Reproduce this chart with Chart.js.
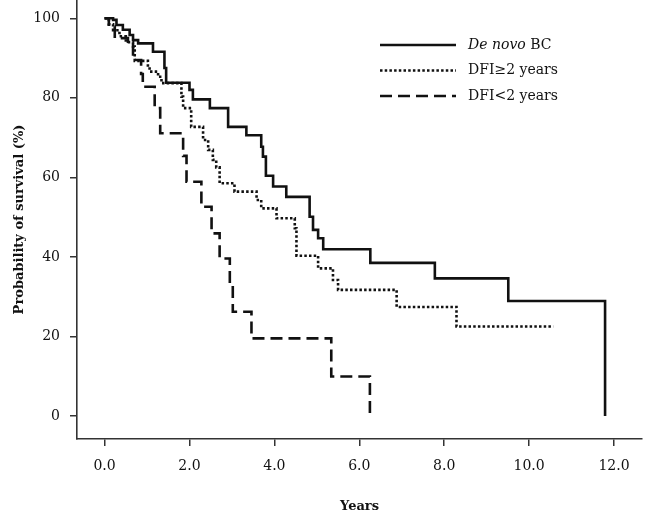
<!DOCTYPE html>
<html>
<head>
<meta charset="utf-8">
<script src="https://cdn.jsdelivr.net/npm/chart.js@4.4.1/dist/chart.umd.min.js"></script>
<style>
  html, body { margin: 0; padding: 0; background: #fff; }
  #wrap { width: 646px; height: 522px; }
</style>
</head>
<body>
<div id="wrap"><canvas id="chart"></canvas></div>
<script>
// survival curves: time (years) where the step lands, survival (%) after it
const deNovoYears = [0, 0.2, 0.28, 0.43, 0.59, 0.67, 0.79, 1.14, 1.41, 1.45, 2.0, 2.08, 2.48, 2.91, 3.34, 3.69, 3.73, 3.8, 3.97, 4.28, 4.83, 4.91, 5.03, 5.15, 6.26, 7.78, 9.51, 11.79];
const deNovoSurvival = [100, 99.6, 98.3, 97.1, 95.8, 94.5, 93.7, 91.6, 87.5, 83.8, 82, 79.6, 77.4, 72.7, 70.6, 67.7, 65.2, 60.4, 57.7, 55.1, 50.1, 46.8, 44.7, 41.9, 38.5, 34.6, 28.9, 0];

const dfiLongYears = [0, 0.1, 0.2, 0.35, 0.5, 0.67, 0.71, 1.02, 1.06, 1.26, 1.34, 1.81, 1.85, 2.04, 2.32, 2.44, 2.55, 2.63, 2.71, 3.06, 3.58, 3.69, 4.05, 4.48, 4.52, 5.03, 5.38, 5.5, 6.88, 8.29, 10.57];
const dfiLongSurvival = [100, 98.5, 97, 95.5, 94, 92.9, 89.3, 87.8, 86.6, 85.3, 83.7, 80.3, 77.4, 72.7, 69.4, 66.9, 64.4, 62.5, 58.5, 56.4, 54.3, 52.2, 49.7, 47.2, 40.3, 37.1, 34.2, 31.7, 27.4, 22.5, 22.5];

const dfiShortYears = [0, 0.1, 0.24, 0.55, 0.67, 0.86, 0.9, 1.18, 1.31, 1.85, 1.93, 2.28, 2.52, 2.71, 2.95, 3.02, 3.46, 5.34, 6.25];
const dfiShortSurvival = [100, 98, 95, 93.7, 89.5, 86, 82.8, 77.4, 71.1, 65.4, 58.9, 52.6, 45.9, 39.6, 32.9, 26.2, 19.5, 9.9, 0];

const xTicks = [0, 2, 4, 6, 8, 10, 12];
const yTicks = [0, 20, 40, 60, 80, 100];

const legendParts = [
  [["De novo", true], [" BC", false]],
  [["DFI\u22652 years", false]],
  [["DFI<2 years", false]],
];

const ink = "#111";
const axisColor = "#333";
const serif = "'DejaVu Serif', 'Liberation Serif', serif";

const toPoints = (xs, ys) => xs.map((x, i) => ({ x: x, y: ys[i] }));

const insideLegend = {
  id: "insideLegend",
  afterDraw(chart) {
    const c = chart.ctx;
    chart.data.datasets.forEach((ds, i) => {
      const y = 45 + i * 25.5;
      c.save();
      c.strokeStyle = ds.borderColor;
      c.lineWidth = ds.borderWidth;
      c.setLineDash(ds.borderDash || []);
      c.beginPath();
      c.moveTo(380, y);
      c.lineTo(456, y);
      c.stroke();
      c.setLineDash([]);
      c.fillStyle = ink;
      c.textBaseline = "middle";
      let x = 468;
      legendParts[i].forEach(([text, italic]) => {
        c.font = (italic ? "italic " : "") + "14px " + serif;
        c.fillText(text, x, y);
        x += c.measureText(text).width;
      });
      c.restore();
    });
  },
};

const ctx = document.getElementById("chart");
new Chart(ctx, {
  type: "line",
  data: {
    datasets: [
      {
        label: "De novo BC",
        data: toPoints(deNovoYears, deNovoSurvival),
        borderColor: ink,
        borderWidth: 2.6,
        stepped: "before",
      },
      {
        label: "DFI\u22652 years",
        data: toPoints(dfiLongYears, dfiLongSurvival),
        borderColor: ink,
        borderWidth: 2.6,
        borderDash: [2.5, 2.2],
        stepped: "before",
      },
      {
        label: "DFI<2 years",
        data: toPoints(dfiShortYears, dfiShortSurvival),
        borderColor: ink,
        borderWidth: 2.6,
        borderDash: [12, 6],
        stepped: "before",
      },
    ],
  },
  options: {
    responsive: true,
    maintainAspectRatio: false,
    animation: false,
    devicePixelRatio: 1,
    layout: { padding: { top: 0, right: 4, bottom: 0, left: 0 } },
    elements: { point: { radius: 0, hoverRadius: 0 } },
    plugins: {
      legend: { display: false },
      tooltip: { enabled: false },
    },
    scales: {
      x: {
        type: "linear",
        min: -0.65,
        max: 12.66,
        afterBuildTicks: (scale) => {
          scale.ticks = xTicks.map((v) => ({ value: v }));
        },
        afterFit: (scale) => {
          scale.height = 83;
          scale.paddingLeft = 0;
          scale.paddingRight = 0;
        },
        ticks: {
          callback: (v) => Number(v).toFixed(1),
          font: { family: serif, size: 14 },
          color: ink,
          padding: 12,
          maxRotation: 0,
          autoSkip: false,
        },
        grid: {
          display: true,
          drawOnChartArea: false,
          drawTicks: true,
          tickLength: 7,
          color: axisColor,
          lineWidth: 1.5,
        },
        border: { display: true, color: axisColor, width: 1.6 },
        title: {
          display: true,
          text: "Years",
          font: { family: serif, size: 13, weight: "bold" },
          color: ink,
          padding: { top: 0, bottom: 8 },
        },
      },
      y: {
        type: "linear",
        min: -5.8,
        max: 104.6,
        afterBuildTicks: (scale) => {
          scale.ticks = yTicks.map((v) => ({ value: v }));
        },
        afterFit: (scale) => {
          scale.width = 77;
          scale.paddingTop = 0;
          scale.paddingBottom = 0;
        },
        ticks: {
          callback: (v) => String(v),
          font: { family: serif, size: 14 },
          color: ink,
          padding: 10,
        },
        grid: {
          display: true,
          drawOnChartArea: false,
          drawTicks: true,
          tickLength: 7,
          color: axisColor,
          lineWidth: 1.5,
        },
        border: { display: true, color: axisColor, width: 1.6 },
        title: {
          display: true,
          text: "Probability of survival (%)",
          font: { family: serif, size: 13, weight: "bold" },
          color: ink,
          padding: { top: 12, bottom: 0 },
        },
      },
    },
  },
  plugins: [insideLegend],
});
</script>
</body>
</html>
